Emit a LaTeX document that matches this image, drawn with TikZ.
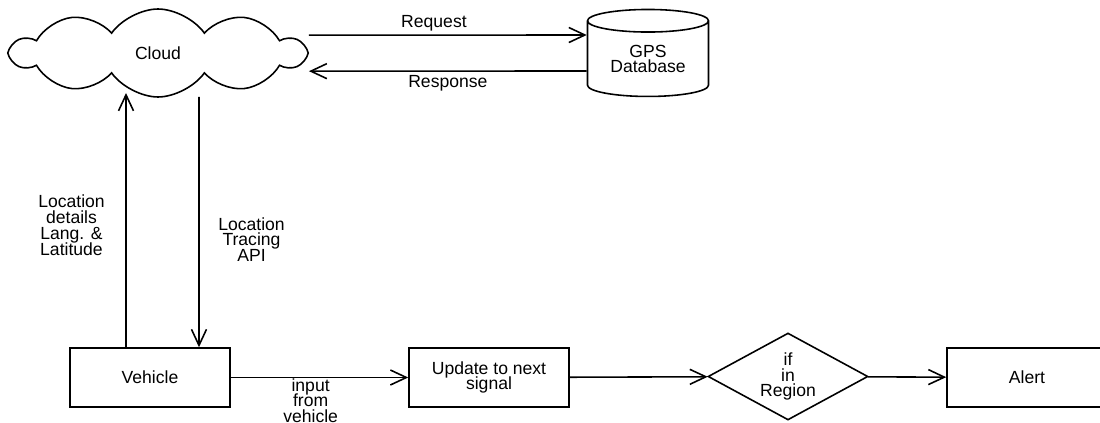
\documentclass[tikz,border=0pt]{standalone}
\usepackage{fontspec}
\setmainfont{Liberation Sans}
\usetikzlibrary{shapes.geometric, shapes.symbols, arrows.meta}
\lineskiplimit=-10pt
\tikzset{
    box/.style={draw, line width=0.9pt, minimum width=3.2cm, minimum height=1.18cm, inner sep=0pt, align=center},
    flow/.style={line width=0.9pt, -{Straight Barb[length=3.2mm, width=3mm]}},
    lbl/.style={align=center, inner sep=2pt},
    puffy/.style={cloud, draw, line width=0.9pt, cloud puffs=10, cloud puff arc=110, cloud ignores aspect, minimum width=5.85cm, minimum height=1.76cm, inner sep=0pt},
    store/.style={cylinder, draw, line width=0.9pt, shape border rotate=90, aspect=0.3, minimum width=2.42cm, minimum height=1.74cm, inner sep=0pt, align=center},
    check/.style={diamond, draw, line width=0.9pt, aspect=1.84, minimum width=3.2cm, minimum height=1.74cm, inner sep=0pt, align=center}
}

\begin{document}
\begin{tikzpicture}[x=0.02cm, y=-0.02cm, font=\fontsize{10pt}{9pt}\selectfont]
  \useasboundingbox (0,0) rectangle (1100,423);
  \node [puffy] (cloud) at (158,53) {Cloud};
  \node [store] (gps) at (648,59) {GPS\\Database};
  \node [box] (vehicle) at (150,377.5) {Vehicle};
  \node [box] (update) at (489,377.5) {Update to next\\signal};
  \node [check] (region) at (788,376.5) {if\\in\\Region};
  \node [box] (alert) at (1027,377.5) {Alert};

  \draw [flow] ([yshift=0.36cm]cloud.east) -- node [lbl, above, pos=0.45] {Request} ([yshift=0.48cm]gps.west);
  \draw [flow] ([yshift=-0.24cm]gps.west) -- node [lbl, below] {Response} ([yshift=-0.36cm]cloud.east);
  \draw [flow] ([xshift=-0.48cm]vehicle.north) -- node [lbl, left=0.34cm, pos=0.48] {Location\\details\\Lang. \&\\Latitude} ([xshift=-0.64cm, yshift=-0.8cm]cloud.center);
  \draw [flow] ([xshift=0.82cm, yshift=-0.88cm]cloud.center) -- node [lbl, right=0.3cm, pos=0.57] {Location\\Tracing\\API} ([xshift=0.98cm]vehicle.north);
  \draw [flow] (vehicle) -- node [lbl, below=0pt, inner sep=0pt, pos=0.45] {input\\from\\vehicle} (update);
  \draw [flow] (update) -- (region);
  \draw [flow] (region) -- (alert);
\end{tikzpicture}
\end{document}
